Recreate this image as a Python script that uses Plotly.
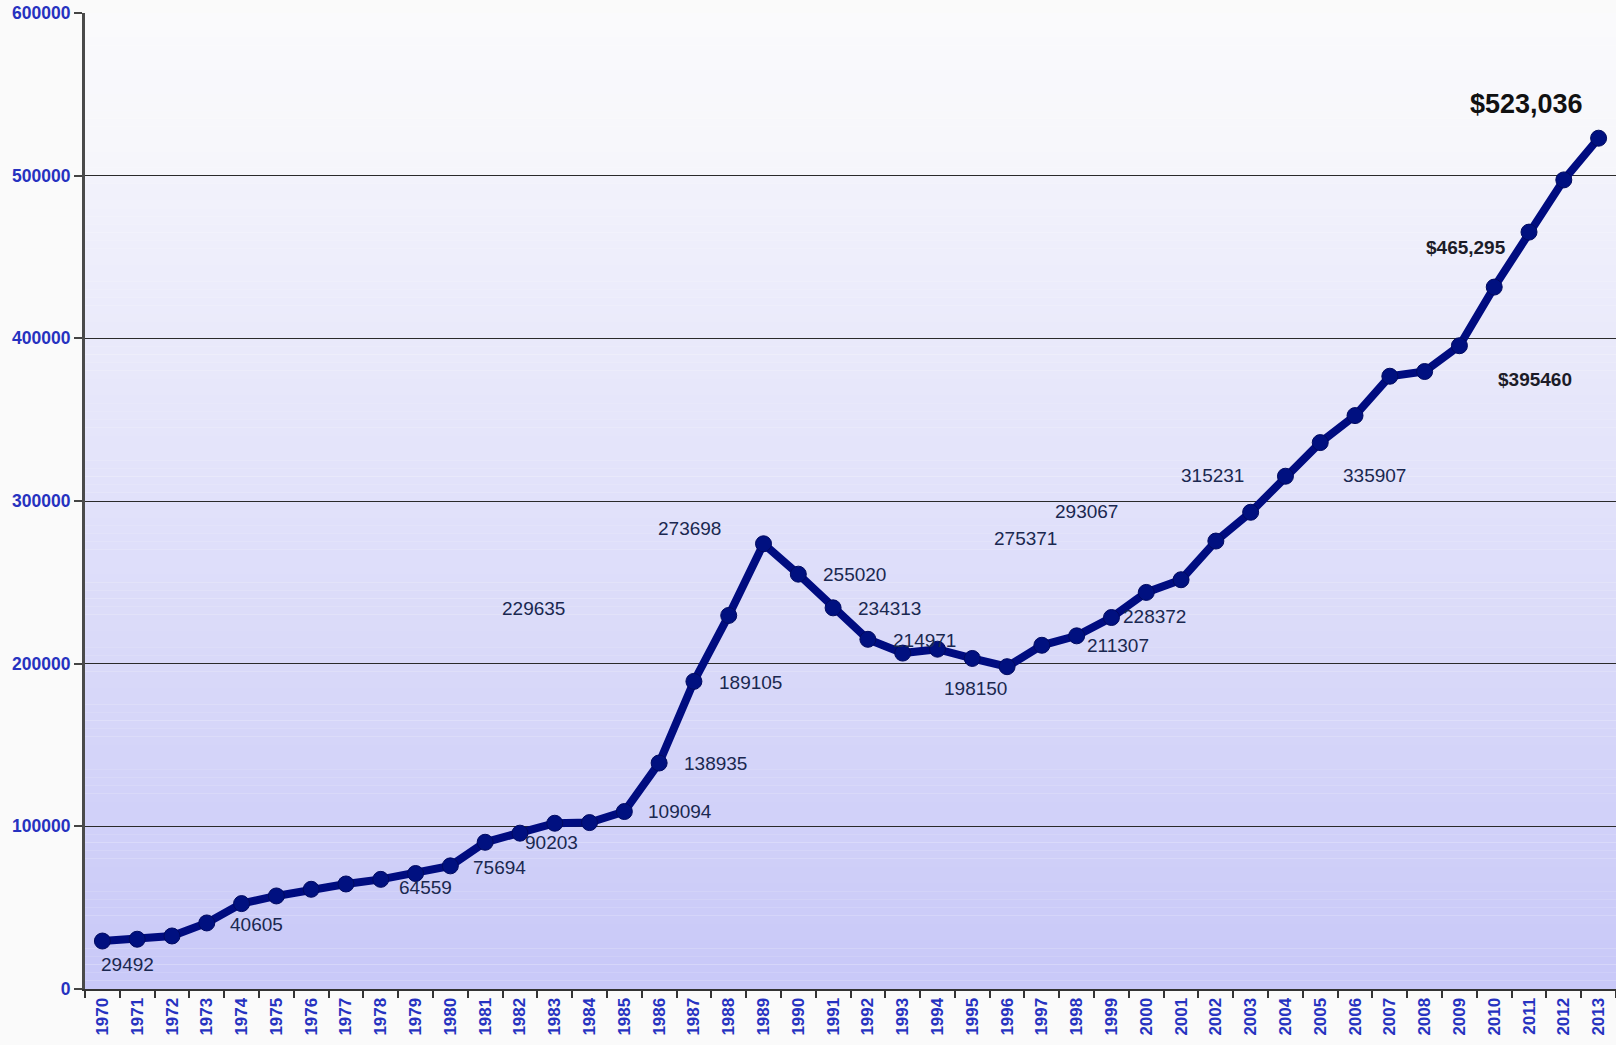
import plotly.graph_objects as go

# Median home value by year
years = list(range(1970, 2014))
values = [
    29492, 30600, 32600, 40605, 52500, 57200, 61300, 64559, 67400, 71000,
    75694, 90203, 95800, 101900, 102300, 109094, 138935, 189105, 229635, 273698,
    255020, 234313, 214971, 206500, 208900, 203200, 198150, 211307, 217100, 228372,
    243800, 251600, 275371, 293067, 315231, 335907, 352500, 376700, 379600, 395460,
    431500, 465295, 497400, 523036,
]

y_ticks = [0, 100000, 200000, 300000, 400000, 500000, 600000]

# Labelled years, their text style and where each label sits (category index, value)
label_years = [1970, 1973, 1977, 1980, 1981, 1985, 1986, 1987, 1988, 1989,
               1990, 1991, 1992, 1996, 2002, 2003, 1997, 1999, 2004, 2005,
               2009, 2011, 2013]
label_formats = ["plain"] * 20 + ["dollar", "dollar_comma", "dollar_comma"]
label_pos = [
    (0.73, 15000), (4.43, 39800), (9.29, 62500), (11.42, 74600), (12.90, 89800),
    (16.60, 108900), (17.61, 138600), (18.62, 188700), (12.40, 233800), (16.87, 283300),
    (21.61, 254700), (22.62, 233800), (23.62, 214200), (25.10, 185000), (26.52, 276900),
    (28.27, 293400), (29.19, 211000), (30.23, 228700), (31.91, 315600), (36.56, 315600),
    (41.18, 374600), (39.20, 455800), (40.92, 543900),
]

x_cat = [str(y) for y in years]


def fmt(v, kind):
    if kind == "dollar":
        return "${}".format(v)
    if kind == "dollar_comma":
        return "${:,}".format(v)
    return str(v)


fig = go.Figure()
fig.add_trace(go.Scatter(
    x=x_cat, y=values, mode="lines+markers",
    line=dict(color="#000c80", width=8),
    marker=dict(size=16, color="#001080", line=dict(color="#000a60", width=1)),
    hoverinfo="x+y",
))

# Vertical gradient fill behind the grid
def lerp(c0, c1, t):
    return tuple(round(a + (b - a) * t) for a, b in zip(c0, c1))

shapes = []
bottom_c, mid_c = (200, 200, 248), (242, 242, 251)
top0_c, top1_c = (246, 246, 251), (250, 250, 252)
n = 100
step = 500000 / n
for i in range(n):
    c = lerp(bottom_c, mid_c, (i + 0.5) / n)
    shapes.append(dict(type="rect", xref="paper", yref="y", x0=0, x1=1,
                       y0=i * step, y1=(i + 1) * step + 100, layer="below",
                       line=dict(width=0), fillcolor="rgb(%d,%d,%d)" % c))
m = 20
step2 = 100000 / m
for i in range(m):
    c = lerp(top0_c, top1_c, (i + 0.5) / m)
    shapes.append(dict(type="rect", xref="paper", yref="y", x0=0, x1=1,
                       y0=500000 + i * step2, y1=500000 + (i + 1) * step2 + 50,
                       layer="below", line=dict(width=0),
                       fillcolor="rgb(%d,%d,%d)" % c))

annotations = []
for yr, kind, (ax, ay) in zip(label_years, label_formats, label_pos):
    v = values[years.index(yr)]
    if yr == 2013:
        font = dict(family="Liberation Sans, Arial, sans-serif", size=27, color="#111111")
        txt = "<b>%s</b>" % fmt(v, kind)
    elif kind != "plain":
        font = dict(family="Liberation Sans, Arial, sans-serif", size=19, color="#1c1c28")
        txt = "<b>%s</b>" % fmt(v, kind)
    else:
        font = dict(family="Liberation Sans, Arial, sans-serif", size=19, color="#1a2850")
        txt = fmt(v, kind)
    annotations.append(dict(x=ax, y=ay, xref="x", yref="y", text=txt,
                            showarrow=False, xanchor="center", yanchor="middle",
                            font=font))

fig.update_layout(
    width=1616, height=1045,
    margin=dict(l=85, r=0, t=13, b=56),
    paper_bgcolor="#fafafa",
    plot_bgcolor="#fafafc",
    showlegend=False,
    shapes=shapes,
    annotations=annotations,
    xaxis=dict(
        type="category", range=[-0.5, 43.5], tickson="boundaries",
        ticks="outside", ticklen=7, tickwidth=2, tickcolor="#333333",
        tickangle=-90,
        tickfont=dict(family="Liberation Sans, Arial, sans-serif", size=17,
                      color="#2632c0", weight="bold"),
        showline=True, linecolor="#333333", linewidth=2,
        showgrid=False, zeroline=False,
    ),
    yaxis=dict(
        range=[0, 600000], tickvals=y_ticks, ticktext=[str(t) for t in y_ticks],
        ticks="outside", ticklen=8, tickwidth=2, tickcolor="#444444",
        tickfont=dict(family="Liberation Sans, Arial, sans-serif", size=17.5,
                      color="#2632c0", weight="bold"),
        showline=True, linecolor="#4a4a4a", linewidth=3,
        showgrid=True, gridcolor="#2a2a2a", gridwidth=1.3, zeroline=False,
    ),
)

fig.write_html("out.html")
